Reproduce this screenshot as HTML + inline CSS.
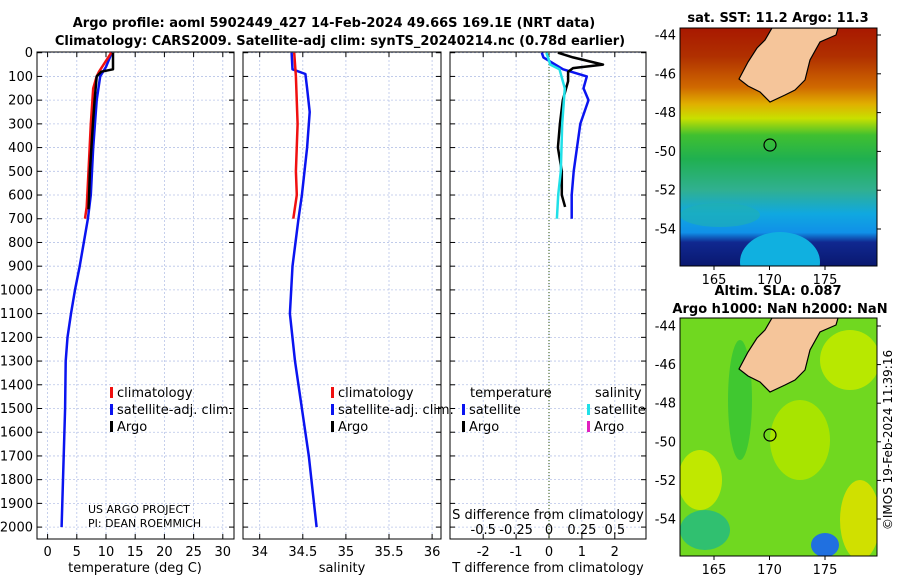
<!DOCTYPE html>
<html><head><meta charset="utf-8"><style>
body{margin:0;background:#fff;font-family:"Liberation Sans","DejaVu Sans",sans-serif}
svg{display:block}
</style></head><body>
<svg id="chart" width="900" height="580" viewBox="0 0 900 580" font-family="DejaVu Sans, Liberation Sans, sans-serif">
<rect width="900" height="580" fill="#fff"/>
<text x="334" y="27" text-anchor="middle" font-size="13" font-weight="bold">Argo profile: aoml 5902449_427 14-Feb-2024 49.66S 169.1E (NRT data)</text>
<text x="340" y="45" text-anchor="middle" font-size="13" font-weight="bold">Climatology: CARS2009. Satellite-adj clim: synTS_20240214.nc (0.78d earlier)</text>
<g id="plots"></g>
<defs>
<linearGradient id="sstg" x1="0" y1="0" x2="0" y2="1">
<stop offset="0" stop-color="#a81800"/><stop offset="0.12" stop-color="#b03000"/><stop offset="0.25" stop-color="#d06a00"/><stop offset="0.32" stop-color="#e0b000"/><stop offset="0.38" stop-color="#c8e000"/><stop offset="0.45" stop-color="#40c030"/><stop offset="0.55" stop-color="#20b050"/><stop offset="0.68" stop-color="#30b090"/><stop offset="0.78" stop-color="#10a8e0"/><stop offset="0.86" stop-color="#1090e8"/><stop offset="0.9" stop-color="#102890"/><stop offset="1" stop-color="#0a1870"/>
</linearGradient>
<clipPath id="m1c"><rect x="680" y="28" width="197" height="238"/></clipPath>
<clipPath id="m2c"><rect x="680" y="318" width="197" height="238"/></clipPath>
</defs>
<g clip-path="url(#m1c)">
<rect x="680" y="28" width="197" height="238" fill="url(#sstg)"/>
<ellipse cx="780" cy="262" rx="40" ry="30" fill="#10b0e0"/>
<ellipse cx="720" cy="215" rx="40" ry="12" fill="#20b0b0" opacity="0.6"/>
<path d="M739,79 L748,62 L757,48 L765,40 L772,28 L838,28 L836,35 L820,42 L810,60 L805,80 L795,90 L785,95 L770,102 L760,92 L748,86 Z" fill="#f5c59a" stroke="#000" stroke-width="1.2"/>
<circle cx="770" cy="145" r="6" fill="none" stroke="#000" stroke-width="1.2"/>
</g>
<rect x="680" y="28" width="197" height="238" fill="none" stroke="#000"/>
<text x="778" y="22" text-anchor="middle" font-size="13" font-weight="bold">sat. SST: 11.2 Argo: 11.3</text>
<g clip-path="url(#m2c)">
<rect x="680" y="318" width="197" height="238" fill="#70d820"/>
<ellipse cx="700" cy="480" rx="22" ry="30" fill="#c0e800"/>
<ellipse cx="850" cy="360" rx="30" ry="30" fill="#b8e800"/>
<ellipse cx="860" cy="520" rx="20" ry="40" fill="#d0e000"/>
<ellipse cx="800" cy="440" rx="30" ry="40" fill="#a8e400"/>
<ellipse cx="705" cy="530" rx="25" ry="20" fill="#30c070"/>
<ellipse cx="740" cy="400" rx="12" ry="60" fill="#40c830"/>
<ellipse cx="825" cy="545" rx="14" ry="12" fill="#2070e0"/>
<path d="M739,369 L748,352 L757,338 L765,330 L772,318 L838,318 L836,325 L820,332 L810,350 L805,370 L795,380 L785,385 L770,392 L760,382 L748,376 Z" fill="#f5c59a" stroke="#000" stroke-width="1.2"/>
<circle cx="770" cy="435" r="6" fill="none" stroke="#000" stroke-width="1.2"/>
</g>
<rect x="680" y="318" width="197" height="238" fill="none" stroke="#000"/>
<text x="778" y="295" text-anchor="middle" font-size="13" font-weight="bold">Altim. SLA: 0.087</text>
<text x="780" y="313" text-anchor="middle" font-size="13" font-weight="bold">Argo h1000: NaN h2000: NaN</text>
<text x="892" y="440" transform="rotate(-90 892 440)" text-anchor="middle" font-size="12">©IMOS 19-Feb-2024 11:39:16</text>
<g id="maps"></g>
</svg>
<script>
// ---- data ----
const depthTicks=[0,100,200,300,400,500,600,700,800,900,1000,1100,1200,1300,1400,1500,1600,1700,1800,1900,2000];
const tempTicks=[0,5,10,15,20,25,30];
const salTicks=[34,34.5,35,35.5,36];
const salTickLabels=["34","34.5","35","35.5","36"];
const tdiffTicks=[-2,-1,0,1,2];
const sdiffTickLabels=["-0.5","-0.25","0","0.25","0.5"];
const sdiffTicks=[-0.5,-0.25,0,0.25,0.5];
const lonTicks=[165,170,175];
const latTicks=[-44,-46,-48,-50,-52,-54];

const climTdepth=[0,80,100,150,300,500,650,700];
const climT=[10.9,8.8,8.4,7.8,7.4,7.0,6.7,6.4];
const satTdepth=[0,60,100,200,400,600,700,800,900,1000,1100,1200,1300,1500,2000];
const satT=[11,10,9,8.4,7.8,7.4,6.9,6.2,5.5,4.7,4.0,3.4,3.1,3.0,2.4];
const argoTdepth=[0,70,80,100,200,300,400,500,600,660];
const argoT=[11.2,11.2,9.2,8.4,8.05,7.75,7.5,7.25,7.1,7.0];

const climSdepth=[0,100,300,500,600,700];
const climS=[34.4,34.42,34.44,34.42,34.43,34.39];
const satSdepth=[0,70,90,150,250,400,600,700,900,1100,1300,1500,1700,2000];
const satS=[34.37,34.38,34.53,34.55,34.58,34.55,34.49,34.45,34.38,34.35,34.41,34.49,34.57,34.66];

const argoTdiffDepth=[0,20,50,65,80,120,200,300,400,500,600,650];
const argoTdiff=[0.27,0.73,1.64,0.73,0.58,0.58,0.42,0.33,0.27,0.39,0.39,0.49];
const satTdiffDepth=[0,20,70,100,150,200,300,400,500,600,700];
const satTdiff=[-0.22,-0.17,0.43,1.15,1.05,1.2,0.95,0.85,0.75,0.69,0.69];
const satSdiffDepth=[0,50,70,150,300,500,600,700];
const satSdiff=[-0.02,0.01,0.08,0.12,0.10,0.09,0.07,0.06];

// ---- axes ----
const NS='http://www.w3.org/2000/svg';
const Y=d=>52.7+d*0.2372;
const xT=t=>47.6+t*29.2/5;
const xS=s=>259.7+(s-34)*86.2;
const xTd=d=>549+d*32.9;
const xSd=d=>549+d*131.6;
const g=document.getElementById('plots');
function el(tag,attrs,parent){const e=document.createElementNS(NS,tag);for(const k in attrs)e.setAttribute(k,attrs[k]);(parent||g).appendChild(e);return e;}
function txt(x,y,s,attrs,parent){const e=el('text',Object.assign({x:x,y:y,'font-size':13},attrs||{}),parent);e.textContent=s;return e;}
const panels=[[37,234],[243,441],[450,646]];
const axTop=52,axBot=539;
panels.forEach((p,i)=>{
  const pg=el('g',{});
  
  
  depthTicks.forEach(d=>{
    el('line',{x1:p[0],x2:p[1],y1:Y(d),y2:Y(d),stroke:'#b8c4e8','stroke-dasharray':'2,2','stroke-width':0.8},pg);
    el('line',{x1:p[0],x2:p[0]+5,y1:Y(d),y2:Y(d),stroke:'#000'},pg);
    el('line',{x1:p[1],x2:p[1]-5,y1:Y(d),y2:Y(d),stroke:'#000'},pg);
  });
  el('rect',{x:p[0],y:axTop,width:p[1]-p[0],height:axBot-axTop,fill:'none',stroke:'#000'},pg);
});
depthTicks.forEach(d=>{
  const t=txt(33,Y(d)+4.5,String(d),{'text-anchor':'end'});
  
  
});
function xgrid(ticks,fx,labels){
  ticks.forEach((v,k)=>{
    const x=fx(v);
    el('line',{x1:x,x2:x,y1:axTop,y2:axBot,stroke:'#b8c4e8','stroke-dasharray':'2,2','stroke-width':0.8});
    el('line',{x1:x,x2:x,y1:axBot,y2:axBot-5,stroke:'#000'});
    el('line',{x1:x,x2:x,y1:axTop,y2:axTop+5,stroke:'#000'});
    const t=txt(x,556,labels?labels[k]:String(v),{'text-anchor':'middle'});
    
    
  });
}
xgrid(tempTicks,xT);
xgrid(salTicks,xS,salTickLabels);
xgrid(tdiffTicks,xTd);
sdiffTicks.forEach((v,k)=>{
  const t=txt(xSd(v),534,sdiffTickLabels[k],{'text-anchor':'middle'});
  
  
});
el('line',{x1:xTd(0),x2:xTd(0),y1:axTop,y2:axBot,stroke:'#507030','stroke-dasharray':'1,2','stroke-width':1.2});
[[135,'temperature (deg C)','x-axis-title-temperature'],[342,'salinity','x-axis-title-salinity'],[548,'T difference from climatology','x-axis-title-tdiff']].forEach(a=>{
  const t=txt(a[0],572,a[1],{'text-anchor':'middle'});
  
  
});
const sdt=txt(548,519,'S difference from climatology',{'text-anchor':'middle'});



function line(depths,vals,fx,color,name){
  const pts=depths.map((d,i)=>fx(vals[i]).toFixed(1)+','+Y(d).toFixed(1)).join(' ');
  const e=el('polyline',{points:pts,fill:'none',stroke:color,'stroke-width':2.5,'stroke-linejoin':'round'});
  
  
}
line(satTdepth,satT,xT,'#0a14f0','satellite-temperature-line');
line(climTdepth,climT,xT,'#f01010','climatology-temperature-line');
line(argoTdepth,argoT,xT,'#000','argo-temperature-line');
line(satSdepth,satS,xS,'#0a14f0','satellite-salinity-line');
line(climSdepth,climS,xS,'#f01010','climatology-salinity-line');
line(satTdiffDepth,satTdiff,xTd,'#0a14f0','satellite-t-diff-line');
line(argoTdiffDepth,argoTdiff,xTd,'#000','argo-t-diff-line');
line(satSdiffDepth,satSdiff,xSd,'#20e0e8','satellite-s-diff-line');

function legend(x,y,color,label){
  const lg=el('g',{});
  
  
  el('rect',{x:x,y:y-10,width:3,height:11,fill:color},lg);
  txt(x+7,y,label,{},lg);
}
[[110,'#f01010','climatology'],[110,'#0a14f0','satellite-adj. clim.'],[110,'#000','Argo']].forEach((a,i)=>legend(a[0],397+i*17,a[1],a[2]));
[[331,'#f01010','climatology'],[331,'#0a14f0','satellite-adj. clim.'],[331,'#000','Argo']].forEach((a,i)=>legend(a[0],397+i*17,a[1],a[2]));
const lt1=txt(470,397,'temperature');
const lt2=txt(595,397,'salinity');
legend(462,414,'#0a14f0','satellite');legend(462,431,'#000','Argo');
legend(587,414,'#20e0e8','satellite');legend(587,431,'#e020c0','Argo');
const c1=txt(88,513,'US ARGO PROJECT',{'font-size':11});
const c2=txt(88,527,'PI: DEAN ROEMMICH',{'font-size':11});

// map axes
const mg=document.getElementById('maps');
const lonX=l=>714+(l-165)*11.1;
[[28,266,35,229],[318,556,326,519]].forEach(m=>{
  const latY=la=>m[2]+(-44-la)*(m[3]-m[2])/10;
  lonTicks.forEach(l=>{
    el('line',{x1:lonX(l),x2:lonX(l),y1:m[1],y2:m[1]+4,stroke:'#000'},mg);
    const t=txt(lonX(l),m[1]+18,String(l),{'text-anchor':'middle'},mg);
    
    
  });
  latTicks.forEach(la=>{
    el('line',{x1:877,x2:881,y1:latY(la),y2:latY(la),stroke:'#000'},mg);
    const t=txt(676,latY(la)+4.5,String(la),{'text-anchor':'end'},mg);
    
    
  });
});
</script>
</body></html>
